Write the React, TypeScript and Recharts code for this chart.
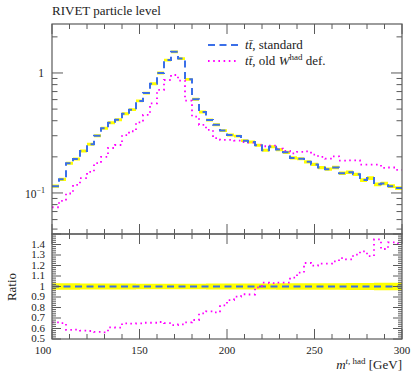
import React from 'react';
import { ComposedChart, Line, Area, XAxis, YAxis } from 'recharts';

// ---- data ----
const binEdges = [100, 104, 108, 112, 116, 120, 124, 128, 132, 136, 140, 144, 148, 152, 156, 160, 164, 168, 172, 176,
  180, 184, 188, 192, 196, 200, 204, 208, 212, 216, 220, 224, 228, 232, 236, 240, 244, 248, 252, 256,
  260, 264, 268, 272, 276, 280, 284, 288, 292, 296, 300];

const standard = [0.114, 0.130, 0.177, 0.192, 0.224, 0.255, 0.300, 0.346, 0.385, 0.408,
  0.458, 0.495, 0.585, 0.680, 0.814, 1.00, 1.28, 1.50, 1.32, 0.886,
  0.604, 0.473, 0.406, 0.371, 0.331, 0.304, 0.298, 0.273, 0.266, 0.250,
  0.227, 0.243, 0.230, 0.218, 0.196, 0.193, 0.182, 0.173, 0.163, 0.158,
  0.163, 0.146, 0.149, 0.143, 0.128, 0.133, 0.118, 0.120, 0.114, 0.110];

const oldWhad = [0.076, 0.086, 0.099, 0.117, 0.133, 0.150, 0.177, 0.200, 0.237, 0.251,
  0.303, 0.327, 0.388, 0.447, 0.559, 0.722, 0.874, 0.962, 0.863, 0.588,
  0.433, 0.369, 0.335, 0.286, 0.277, 0.277, 0.273, 0.266, 0.263, 0.250,
  0.245, 0.248, 0.234, 0.224, 0.214, 0.220, 0.222, 0.209, 0.200, 0.193,
  0.202, 0.186, 0.187, 0.187, 0.172, 0.172, 0.172, 0.162, 0.163, 0.156];

const ratioOld = [0.659, 0.652, 0.586, 0.589, 0.579, 0.576, 0.567, 0.564, 0.611, 0.608,
  0.649, 0.646, 0.649, 0.655, 0.655, 0.662, 0.652, 0.633, 0.640, 0.659,
  0.681, 0.744, 0.763, 0.754, 0.821, 0.871, 0.903, 0.926, 0.924, 0.992,
  1.037, 1.033, 1.037, 1.037, 1.084, 1.132, 1.224, 1.198, 1.217, 1.217,
  1.240, 1.271, 1.259, 1.303, 1.335, 1.290, 1.449, 1.357, 1.421, 1.411];

const bandRelErr = [0.032, 0.031, 0.030, 0.030, 0.029, 0.029, 0.028, 0.028, 0.028, 0.028,
  0.028, 0.028, 0.027, 0.027, 0.027, 0.027, 0.027, 0.027, 0.027, 0.027,
  0.027, 0.027, 0.028, 0.028, 0.028, 0.028, 0.028, 0.028, 0.029, 0.029,
  0.029, 0.029, 0.030, 0.030, 0.030, 0.030, 0.031, 0.031, 0.031, 0.032,
  0.032, 0.032, 0.033, 0.033, 0.034, 0.034, 0.035, 0.035, 0.036, 0.036];

const xTickValues = [100, 110, 120, 130, 140, 150, 160, 170, 180, 190, 200, 210, 220, 230, 240, 250, 260, 270, 280, 290, 300];
const xMajorLabels = [100, 150, 200, 250, 300];
const upperTickValues = [0.05, 0.06, 0.07, 0.08, 0.09, 0.1, 0.2, 0.3, 0.4, 0.5, 0.6, 0.7, 0.8, 0.9, 1, 2];
const upperMajorTicks = [0.1, 1];
const ratioLabels = ['0.5', '0.6', '0.7', '0.8', '0.9', '1', '1.1', '1.2', '1.3', '1.4'];

// ---- layout ----
const W = 415, H = 375;
const L = 52, R = 402;
const T1 = 24, B1 = 234;
const T2 = 234, B2 = 339;
const AX = '#5a5a5a';
const BLUE = '#3b6fe8';
const MAG = '#ff00ff';
const YEL = '#ffff00';
const FONT = '"Liberation Serif", "Times New Roman", serif';

const nBins = standard.length;
const upperData = binEdges.map((x, i) => {
  const j = Math.min(i, nBins - 1);
  const b = standard[j];
  const e = bandRelErr[j];
  return { x, std: b, old: oldWhad[j], band: [b * (1 - e), b * (1 + e)] };
});
const lowerData = binEdges.map((x, i) => {
  const j = Math.min(i, nBins - 1);
  const e = bandRelErr[j];
  return { x, ratio: ratioOld[j], one: 1, rband: [1 - e, 1 + e] };
});

const ratioTickValues: number[] = [];
for (let k = 25; k <= 75; k++) ratioTickValues.push(k / 50);

const xTickUpper = (p: any) => {
  const v = p.payload.value;
  const x = p.x;
  const len = v % 50 === 0 ? 10 : 5;
  return (
    <g>
      <line x1={x} x2={x} y1={B1} y2={B1 - len} stroke={AX} strokeWidth={1} />
      <line x1={x} x2={x} y1={T1} y2={T1 + len} stroke={AX} strokeWidth={1} />
    </g>
  );
};

const xTickLower = (p: any) => {
  const v = p.payload.value;
  const x = p.x;
  const major = v % 50 === 0;
  const len = major ? 10 : 5;
  const showLabel = xMajorLabels.indexOf(v) >= 0;
  return (
    <g>
      <line x1={x} x2={x} y1={B2} y2={B2 - len} stroke={AX} strokeWidth={1} />
      <line x1={x} x2={x} y1={T2} y2={T2 + len} stroke={AX} strokeWidth={1} />
      {showLabel && (
        <text x={v === 100 ? x - 9 : x} y={B2 + 15} textAnchor="middle" fontSize={11} fontFamily={FONT} fill="#222">
          {String(v)}
        </text>
      )}
    </g>
  );
};

const yTickUpper = (p: any) => {
  const v = p.payload.value;
  const y = p.y;
  const major = upperMajorTicks.indexOf(v) >= 0;
  const len = major ? 11 : 5.5;
  return (
    <g>
      <line x1={L} x2={L + len} y1={y} y2={y} stroke={AX} strokeWidth={1} />
      <line x1={R} x2={R - len} y1={y} y2={y} stroke={AX} strokeWidth={1} />
      {v === 1 && (
        <text x={L - 8} y={y + 4} textAnchor="end" fontSize={11.5} fontFamily={FONT} fill="#222">1</text>
      )}
      {v === 0.1 && (
        <text x={L - 7} y={y + 5} textAnchor="end" fontSize={11.5} fontFamily={FONT} fill="#222">
          10<tspan dy={-5} fontSize={8}>−1</tspan>
        </text>
      )}
    </g>
  );
};

const yTickLower = (p: any) => {
  const v = p.payload.value;
  const y = p.y;
  const k = Math.round(v * 50);
  const major = k % 5 === 0;
  const len = major ? 9 : 4;
  const idx = (k - 25) / 5;
  const label = major && idx >= 0 && idx < ratioLabels.length ? ratioLabels[idx] : null;
  return (
    <g>
      <line x1={L} x2={L + len} y1={y} y2={y} stroke={AX} strokeWidth={1} />
      <line x1={R} x2={R - len} y1={y} y2={y} stroke={AX} strokeWidth={1} />
      {label && (
        <text x={L - 7} y={y + 3} textAnchor="end" fontSize={11} fontFamily={FONT} fill="#222">{label}</text>
      )}
    </g>
  );
};

export default function App() {
  return (
    <div style={{ position: 'absolute', left: 0, top: 0, width: W, height: H, background: '#fff' }}>
      <div style={{ position: 'absolute', left: 0, top: 0 }}>
        <ComposedChart width={W} height={H} data={upperData}
          margin={{ top: T1, right: W - R, bottom: H - B1 - 1, left: L - 1 }}>
          <XAxis xAxisId="x" dataKey="x" type="number" domain={[100, 300]} ticks={xTickValues} interval={0}
            height={1} axisLine={false} tickLine={false} tick={xTickUpper} allowDataOverflow />
          <YAxis yAxisId="y" type="number" scale="log" domain={[0.0455, 2.56]} ticks={upperTickValues} interval={0}
            width={1} axisLine={false} tickLine={false} tick={yTickUpper} allowDataOverflow />
          <Area xAxisId="x" yAxisId="y" type="stepAfter" dataKey="band" fill={YEL} fillOpacity={1} stroke="none"
            isAnimationActive={false} />
          <Line xAxisId="x" yAxisId="y" type="stepAfter" dataKey="old" stroke={MAG} strokeWidth={1.8}
            strokeDasharray="1.6 3.6" dot={false} isAnimationActive={false} />
          <Line xAxisId="x" yAxisId="y" type="stepAfter" dataKey="std" stroke={BLUE} strokeWidth={2}
            strokeDasharray="7 4.5" dot={false} isAnimationActive={false} />
        </ComposedChart>
      </div>
      <div style={{ position: 'absolute', left: 0, top: 0 }}>
        <ComposedChart width={W} height={H} data={lowerData}
          margin={{ top: T2, right: W - R, bottom: H - B2 - 1, left: L - 1 }}>
          <XAxis xAxisId="x" dataKey="x" type="number" domain={[100, 300]} ticks={xTickValues} interval={0}
            height={1} axisLine={false} tickLine={false} tick={xTickLower} allowDataOverflow />
          <YAxis yAxisId="y" type="number" domain={[0.5, 1.5]} ticks={ratioTickValues} interval={0}
            width={1} axisLine={false} tickLine={false} tick={yTickLower} allowDataOverflow />
          <Area xAxisId="x" yAxisId="y" type="stepAfter" dataKey="rband" fill={YEL} fillOpacity={1} stroke="none"
            isAnimationActive={false} />
          <Line xAxisId="x" yAxisId="y" type="stepAfter" dataKey="one" stroke={BLUE} strokeWidth={2}
            strokeDasharray="7 4.5" dot={false} isAnimationActive={false} />
          <Line xAxisId="x" yAxisId="y" type="stepAfter" dataKey="ratio" stroke={MAG} strokeWidth={1.8}
            strokeDasharray="1.6 3.6" dot={false} isAnimationActive={false} />
        </ComposedChart>
      </div>
      <svg width={W} height={H} style={{ position: 'absolute', left: 0, top: 0, pointerEvents: 'none' }}>
        <rect x={L} y={T1} width={R - L} height={B1 - T1} fill="none" stroke={AX} strokeWidth={1.2} />
        <rect x={L} y={T2} width={R - L} height={B2 - T2} fill="none" stroke={AX} strokeWidth={1.2} />
        <text x={L} y={15} fontSize={13} fontFamily={FONT} fill="#222">RIVET particle level</text>
        <line x1={208} x2={238} y1={45} y2={45} stroke={BLUE} strokeWidth={2} strokeDasharray="7 4.5" />
        <line x1={208} x2={238} y1={61} y2={61} stroke={MAG} strokeWidth={1.8} strokeDasharray="1.6 3.6" />
        <text x={245} y={49} fontSize={13} fontFamily={FONT} fill="#222">
          <tspan fontStyle="italic">t{'t\u0304'}</tspan>, standard
        </text>
        <text x={245} y={65} fontSize={13} fontFamily={FONT} fill="#222">
          <tspan fontStyle="italic">t{'t\u0304'}</tspan>, old <tspan fontStyle="italic">W</tspan>
          <tspan dy={-5} fontSize={9}>had</tspan><tspan dy={5}> def.</tspan>
        </text>
        <text x={16} y={287} fontSize={13} fontFamily={FONT} fill="#222" textAnchor="middle"
          transform="rotate(-90 16 287)">Ratio</text>
        <text x={R} y={369} fontSize={13} fontFamily={FONT} fill="#222" textAnchor="end">
          <tspan fontStyle="italic">m</tspan>
          <tspan dy={-5} fontSize={9}><tspan fontStyle="italic">t</tspan>, had</tspan>
          <tspan dy={5}> [GeV]</tspan>
        </text>
      </svg>
    </div>
  );
}
